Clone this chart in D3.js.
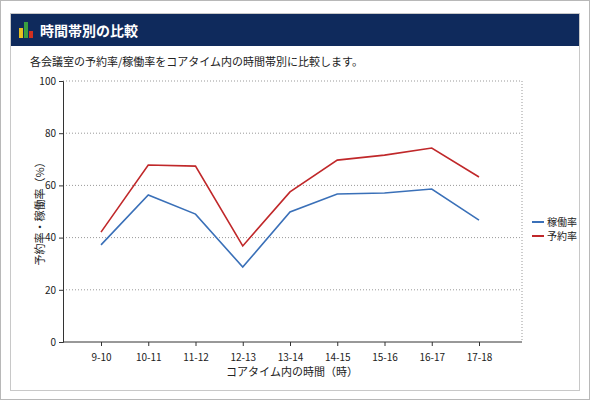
<!DOCTYPE html><html><head><meta charset="utf-8"><script src="https://cdn.jsdelivr.net/npm/d3@7"></script>
<style>body{margin:0;background:#fff;font-family:"Noto Sans CJK JP",sans-serif}</style></head><body>
<svg id="c" width="590" height="400"></svg>
<script>
const categories=["9-10","10-11","11-12","12-13","13-14","14-15","15-16","16-17","17-18"];
const kadou=[37.2,56.3,49.0,28.7,49.8,56.7,57.1,58.6,46.7];
const yoyaku=[42.1,67.8,67.4,36.8,57.5,69.7,71.6,74.3,63.2];
const yTicks=[0,20,40,60,80,100];
const series=[{name:"稼働率",values:kadou,color:"#3a70b8"},{name:"予約率",values:yoyaku,color:"#c0282a"}];
const svg=d3.select("#c");
svg.append("rect").attr("x",0.5).attr("y",0.5).attr("width",589).attr("height",399).attr("fill","#fff").attr("stroke","#b8b8b8");
svg.append("rect").attr("x",10.5).attr("y",13.5).attr("width",569).attr("height",377).attr("fill","#fff").attr("stroke","#c8c8c8");
svg.append("rect").attr("x",11).attr("y",14).attr("width",568).attr("height",32).attr("fill","#0f2a5c");
const ic=svg.append("g").attr("transform","translate(19,22)");
ic.append("rect").attr("x",0).attr("y",6).attr("width",4).attr("height",10).attr("fill","#e8c020");
ic.append("rect").attr("x",5).attr("y",0).attr("width",4).attr("height",16).attr("fill","#3aa040");
ic.append("rect").attr("x",10).attr("y",9).attr("width",4).attr("height",7).attr("fill","#d03020");
svg.append("text").attr("x",40).attr("y",36).attr("fill","#fff").attr("font-size",14).attr("font-weight","bold").text("時間帯別の比較");
svg.append("text").attr("x",30).attr("y",66).attr("font-size",11).attr("fill","#222").text("各会議室の予約率/稼働率をコアタイム内の時間帯別に比較します。");
const x=d3.scalePoint().domain(categories).range([101,479]);
const y=d3.scaleLinear().domain([0,100]).range([342,81]);
const L=63,R=522;
yTicks.forEach(t=>{ if(t>0) svg.append("line").attr("x1",L).attr("x2",R).attr("y1",y(t)).attr("y2",y(t)).attr("stroke","#999").attr("stroke-dasharray","1,2");});
svg.append("line").attr("x1",R).attr("x2",R).attr("y1",81).attr("y2",342).attr("stroke","#999").attr("stroke-dasharray","1,2");
const ya=svg.append("g").attr("transform",`translate(${L},0)`).call(d3.axisLeft(y).tickValues(yTicks).tickSize(4));
const xa=svg.append("g").attr("transform",`translate(0,342)`).call(d3.axisBottom(x).tickSize(4).tickPadding(8));
xa.select(".domain").attr("d",`M${L},0H${R}`);
[ya,xa].forEach(a=>{a.selectAll("text").attr("font-size",10).attr("fill","#222").attr("font-family","Noto Sans CJK JP");a.selectAll("line,path").attr("stroke","#333");});
const line=d3.line().x((d,i)=>x(categories[i])).y(d=>y(d));
series.forEach(s=>svg.append("path").attr("d",line(s.values)).attr("fill","none").attr("stroke",s.color).attr("stroke-width",1.6));
svg.append("text").attr("transform","translate(44,211) rotate(-90)").attr("text-anchor","middle").attr("font-size",11).attr("fill","#222").text("予約率・稼働率（%）");
svg.append("text").attr("x",292).attr("y",376).attr("text-anchor","middle").attr("font-size",11).attr("fill","#222").text("コアタイム内の時間（時）");
series.forEach((s,i)=>{const yy=222+i*14;
 svg.append("line").attr("x1",532).attr("x2",544).attr("y1",yy).attr("y2",yy).attr("stroke",s.color).attr("stroke-width",2);
 svg.append("text").attr("x",547).attr("y",yy+4).attr("font-size",10).attr("fill","#222").text(s.name);});
</script></body></html>
